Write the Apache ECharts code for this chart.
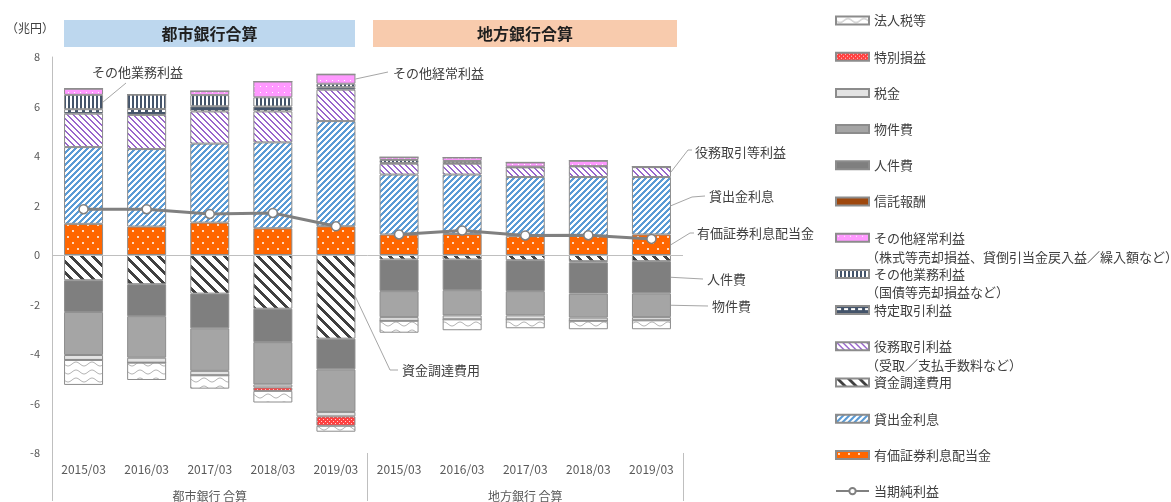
<!DOCTYPE html>
<html>
<head>
<meta charset="utf-8">
<script src="https://cdn.jsdelivr.net/npm/echarts@6/dist/echarts.min.js"></script>
<style>
  html, body { margin: 0; padding: 0; background: #ffffff; }
  #chart { width: 1171px; height: 502px; }
</style>
</head>
<body>
<div id="chart"></div>
<script>
// ---- data (兆円); first five entries = 都市銀行, last five = 地方銀行 ----
const years = ['2015/03', '2016/03', '2017/03', '2018/03', '2019/03'];
const categories = years.concat(years);
const groupLabels = ['都市銀行 合算', '地方銀行 合算'];
const groupTitles = ['都市銀行合算', '地方銀行合算'];

const securities    = [1.26, 1.15, 1.31, 1.08, 1.16,   0.83, 0.85, 0.76, 0.78, 0.83];
const loans         = [3.10, 3.13, 3.19, 3.47, 4.25,   2.42, 2.40, 2.39, 2.37, 2.32];
const funding       = [-1.02, -1.18, -1.56, -2.17, -3.38, -0.18, -0.18, -0.21, -0.25, -0.25];
const fees          = [1.35, 1.38, 1.30, 1.25, 1.27,   0.44, 0.44, 0.39, 0.43, 0.40];
const trading       = [0.18, 0.24, 0.21, 0.20, 0.10,   0.03, 0.02, 0.00, -0.05, 0.00];
const otherBusiness = [0.58, 0.58, 0.45, 0.37, 0.14,   0.12, 0.09, 0.03, 0.01, 0.02];
const otherOrdinary = [0.25, 0.00, 0.16, 0.64, 0.38,   0.11, 0.14, 0.17, 0.22, 0.00];
const trustFees     = [0, 0, 0, 0, 0,   0, 0, 0, 0, 0];
const personnel     = [-1.28, -1.29, -1.40, -1.35, -1.24, -1.28, -1.24, -1.25, -1.26, -1.30];
const nonPersonnel  = [-1.74, -1.68, -1.72, -1.71, -1.72, -1.05, -1.02, -0.98, -0.97, -0.96];
const taxes         = [-0.20, -0.20, -0.18, -0.12, -0.18, -0.15, -0.16, -0.16, -0.13, -0.13];
const extraordinary = [0, 0, 0, -0.14, -0.38,   0, 0, 0, 0, 0];
const incomeTaxes   = [-1.01, -0.70, -0.54, -0.47, -0.24, -0.48, -0.44, -0.36, -0.34, -0.36];
const netIncome     = [1.85, 1.85, 1.66, 1.70, 1.16,   0.83, 0.99, 0.79, 0.80, 0.65];

// ---- fill patterns ----
function tile(w, h, draw) {
  const c = document.createElement('canvas');
  c.width = w; c.height = h;
  draw(c.getContext('2d'), w, h);
  return { image: c, repeat: 'repeat' };
}
function diagonal(period, width, fg, bg, rising) {
  return tile(period, period, (ctx) => {
    ctx.fillStyle = bg; ctx.fillRect(0, 0, period, period);
    ctx.fillStyle = fg;
    for (let y = 0; y < period; y++) {
      for (let x = 0; x < period; x++) {
        const k = rising ? (x + y) % period : ((x - y) % period + period) % period;
        if (k < width) ctx.fillRect(x, y, 1, 1);
      }
    }
  });
}
const fills = {
  securities: tile(10, 12, (ctx, w, h) => {
    ctx.fillStyle = '#FF6600'; ctx.fillRect(0, 0, w, h);
    ctx.fillStyle = '#FFD9BF'; ctx.fillRect(2, 2, 2, 2); ctx.fillRect(7, 8, 2, 2);
  }),
  loans: diagonal(6, 3, '#5B9BD5', '#FFFFFF', true),
  funding: diagonal(11, 4, '#404040', '#FFFFFF', false),
  fees: diagonal(6, 2, '#9966CC', '#FFFFFF', false),
  trading: tile(7, 6, (ctx, w, h) => {
    ctx.fillStyle = '#44546A'; ctx.fillRect(0, 0, w, h);
    ctx.fillStyle = '#FFFFFF'; ctx.fillRect(1, 2, 4, 2);
  }),
  otherBusiness: tile(4, 4, (ctx, w, h) => {
    ctx.fillStyle = '#FFFFFF'; ctx.fillRect(0, 0, w, h);
    ctx.fillStyle = '#44546A'; ctx.fillRect(0, 0, 2, h);
  }),
  otherOrdinary: tile(6, 6, (ctx, w, h) => {
    ctx.fillStyle = '#FF99FF'; ctx.fillRect(0, 0, w, h);
    ctx.fillStyle = '#FFFFFF'; ctx.fillRect(2, 2, 1, 1);
  }),
  extraordinary: tile(4, 4, (ctx, w, h) => {
    ctx.fillStyle = '#FF4040'; ctx.fillRect(0, 0, w, h);
    ctx.fillStyle = '#FFD0D0'; ctx.fillRect(1, 1, 1, 1); ctx.fillRect(3, 3, 1, 1);
  }),
  incomeTaxes: tile(16, 8, (ctx, w, h) => {
    ctx.fillStyle = '#FFFFFF'; ctx.fillRect(0, 0, w, h);
    ctx.strokeStyle = '#B4B4B4'; ctx.lineWidth = 1;
    ctx.beginPath();
    for (let x = 0; x <= w; x++) {
      const y = 4 + 2 * Math.sin(2 * Math.PI * x / w);
      if (x === 0) ctx.moveTo(x, y); else ctx.lineTo(x, y);
    }
    ctx.stroke();
  })
};

// stacking order: first entry sits next to zero
const barDefs = [
  { name: '有価証券利息配当金', data: securities, color: fills.securities },
  { name: '貸出金利息', data: loans, color: fills.loans },
  { name: '資金調達費用', data: funding, color: fills.funding },
  { name: '役務取引利益', data: fees, color: fills.fees },
  { name: '特定取引利益', data: trading, color: fills.trading },
  { name: 'その他業務利益', data: otherBusiness, color: fills.otherBusiness },
  { name: 'その他経常利益', data: otherOrdinary, color: fills.otherOrdinary },
  { name: '信託報酬', data: trustFees, color: '#9E480E' },
  { name: '人件費', data: personnel, color: '#7F7F7F' },
  { name: '物件費', data: nonPersonnel, color: '#A5A5A5' },
  { name: '税金', data: taxes, color: '#E3E3E3' },
  { name: '特別損益', data: extraordinary, color: fills.extraordinary },
  { name: '法人税等', data: incomeTaxes, color: fills.incomeTaxes }
];

const BAR_W = 39;
const FONT = "'Noto Sans CJK JP', 'Noto Sans', sans-serif";

const series = barDefs.map((d, idx) => {
  const s = {
    name: d.name,
    type: 'bar',
    stack: 'total',
    barWidth: BAR_W,
    data: d.data,
    itemStyle: { color: d.color, borderColor: '#8C8C8C', borderWidth: 1 },
    emphasis: { disabled: true }
  };
  if (idx === 0) {
    s.markLine = {
      silent: true,
      symbol: ['none', 'none'],
      label: { show: false },
      lineStyle: { color: '#BFBFBF', width: 1, type: 'solid' },
      data: [{ yAxis: 0 }]
    };
  }
  return s;
});

// net income line, drawn separately for each bank group
[0, 1].forEach((g) => {
  series.push({
    name: '当期純利益',
    type: 'line',
    data: netIncome.map((v, i) => (Math.floor(i / 5) === g ? v : '-')),
    symbol: 'circle',
    symbolSize: 9,
    lineStyle: { color: '#808080', width: 3 },
    itemStyle: { color: '#FFFFFF', borderColor: '#808080', borderWidth: 1.5 },
    emphasis: { disabled: true },
    z: 5
  });
});

const legendOrder = ['法人税等', '特別損益', '税金', '物件費', '人件費', '信託報酬',
  'その他経常利益', 'その他業務利益', '特定取引利益', '役務取引利益', '資金調達費用',
  '貸出金利息', '有価証券利息配当金', '当期純利益'];

const chart = echarts.init(document.getElementById('chart'), null, { renderer: 'canvas' });

chart.setOption({
  animation: false,
  backgroundColor: '#FFFFFF',
  textStyle: { fontFamily: FONT },
  grid: { left: 52, right: 488, top: 57, bottom: 48, containLabel: false },
  legend: {
    orient: 'vertical',
    left: 835,
    top: 14,
    padding: 0,
    itemWidth: 33,
    itemHeight: 8,
    itemGap: 23.2,
    selectedMode: false,
    textStyle: { fontSize: 13, color: '#404040', fontFamily: FONT },
    data: legendOrder.map((n) => (n === '当期純利益' ? { name: n } : { name: n, icon: 'rect' }))
  },
  xAxis: [
    {
      type: 'category',
      data: categories,
      position: 'bottom',
      axisLine: { show: false },
      axisTick: { show: false },
      axisLabel: { interval: 0, margin: 10, fontSize: 12, color: '#595959' }
    },
    {
      type: 'category',
      data: groupLabels,
      position: 'bottom',
      axisLine: { show: false },
      axisTick: { show: true, length: 48, lineStyle: { color: '#BFBFBF' } },
      axisLabel: { interval: 0, margin: 37, fontSize: 12, color: '#595959' }
    }
  ],
  yAxis: {
    type: 'value',
    min: -8,
    max: 8,
    interval: 2,
    axisLine: { show: true, lineStyle: { color: '#BFBFBF' } },
    axisTick: { show: false },
    splitLine: { show: false },
    axisLabel: { margin: 12, fontSize: 11, color: '#595959' }
  },
  series: series
});

// ---- annotations anchored to the stacked segments ----
function segmentMid(name, i) {
  let pos = 0, neg = 0;
  for (const d of barDefs) {
    const v = d.data[i];
    if (d.name === name) return (v >= 0 ? pos : neg) + v / 2;
    if (v >= 0) pos += v; else neg += v;
  }
  return 0;
}
function barEdge(name, i) {
  const p = chart.convertToPixel({ xAxisIndex: 0, yAxisIndex: 0 }, [i, segmentMid(name, i)]);
  return [p[0] + BAR_W / 2, p[1]];
}

const callouts = [
  { text: 'その他業務利益', seg: 'その他業務利益', i: 0, path: [[126, 83]], at: [92, 72] },
  { text: 'その他経常利益', seg: 'その他経常利益', i: 4, path: [[388, 72]], at: [393, 73] },
  { text: '役務取引等利益', seg: '役務取引利益', i: 9, path: [[688, 150], [692, 150]], at: [695, 152] },
  { text: '貸出金利息', seg: '貸出金利息', i: 9, path: [[692, 197], [705, 196]], at: [709, 196] },
  { text: '有価証券利息配当金', seg: '有価証券利息配当金', i: 9, path: [[690, 233], [694, 233]], at: [697, 233] },
  { text: '人件費', seg: '人件費', i: 9, path: [[703, 279]], at: [707, 279] },
  { text: '物件費', seg: '物件費', i: 9, path: [[708, 306]], at: [712, 306] },
  { text: '資金調達費用', seg: '資金調達費用', i: 4, path: [[390, 370], [398, 370]], at: [402, 370] }
];

const graphics = [];
callouts.forEach((c) => {
  const start = barEdge(c.seg, c.i);
  graphics.push({
    type: 'polyline', silent: true,
    shape: { points: [start].concat(c.path) },
    style: { stroke: '#A6A6A6', lineWidth: 1, fill: null }
  });
  graphics.push({
    type: 'text', silent: true, x: c.at[0], y: c.at[1],
    style: { text: c.text, fontSize: 13, fill: '#404040', fontFamily: FONT, verticalAlign: 'middle' }
  });
});

// group title banners
[[64, 291, '#BDD7EE'], [373, 304, '#F8CBAD']].forEach((b, g) => {
  graphics.push({
    type: 'rect', silent: true,
    shape: { x: b[0], y: 20, width: b[1], height: 27 },
    style: { fill: b[2] }
  });
  graphics.push({
    type: 'text', silent: true, x: b[0] + b[1] / 2, y: 34,
    style: { text: groupTitles[g], fontSize: 16, fontWeight: 'bold', fill: '#1F1F1F',
             fontFamily: FONT, align: 'center', verticalAlign: 'middle' }
  });
});

// unit label
graphics.push({
  type: 'text', silent: true, x: 6, y: 28,
  style: { text: '（兆円）', fontSize: 12, fill: '#404040', fontFamily: FONT, verticalAlign: 'middle' }
});

// second lines of the longer legend entries
[['（株式等売却損益、貸倒引当金戻入益／繰入額など）', 257],
 ['（国債等売却損益など）', 292],
 ['（受取／支払手数料など）', 365]].forEach((t) => {
  graphics.push({
    type: 'text', silent: true, x: 866, y: t[1],
    style: { text: t[0], fontSize: 13, fill: '#404040', fontFamily: FONT, verticalAlign: 'middle' }
  });
});

chart.setOption({ graphic: graphics });
</script>
</body>
</html>
